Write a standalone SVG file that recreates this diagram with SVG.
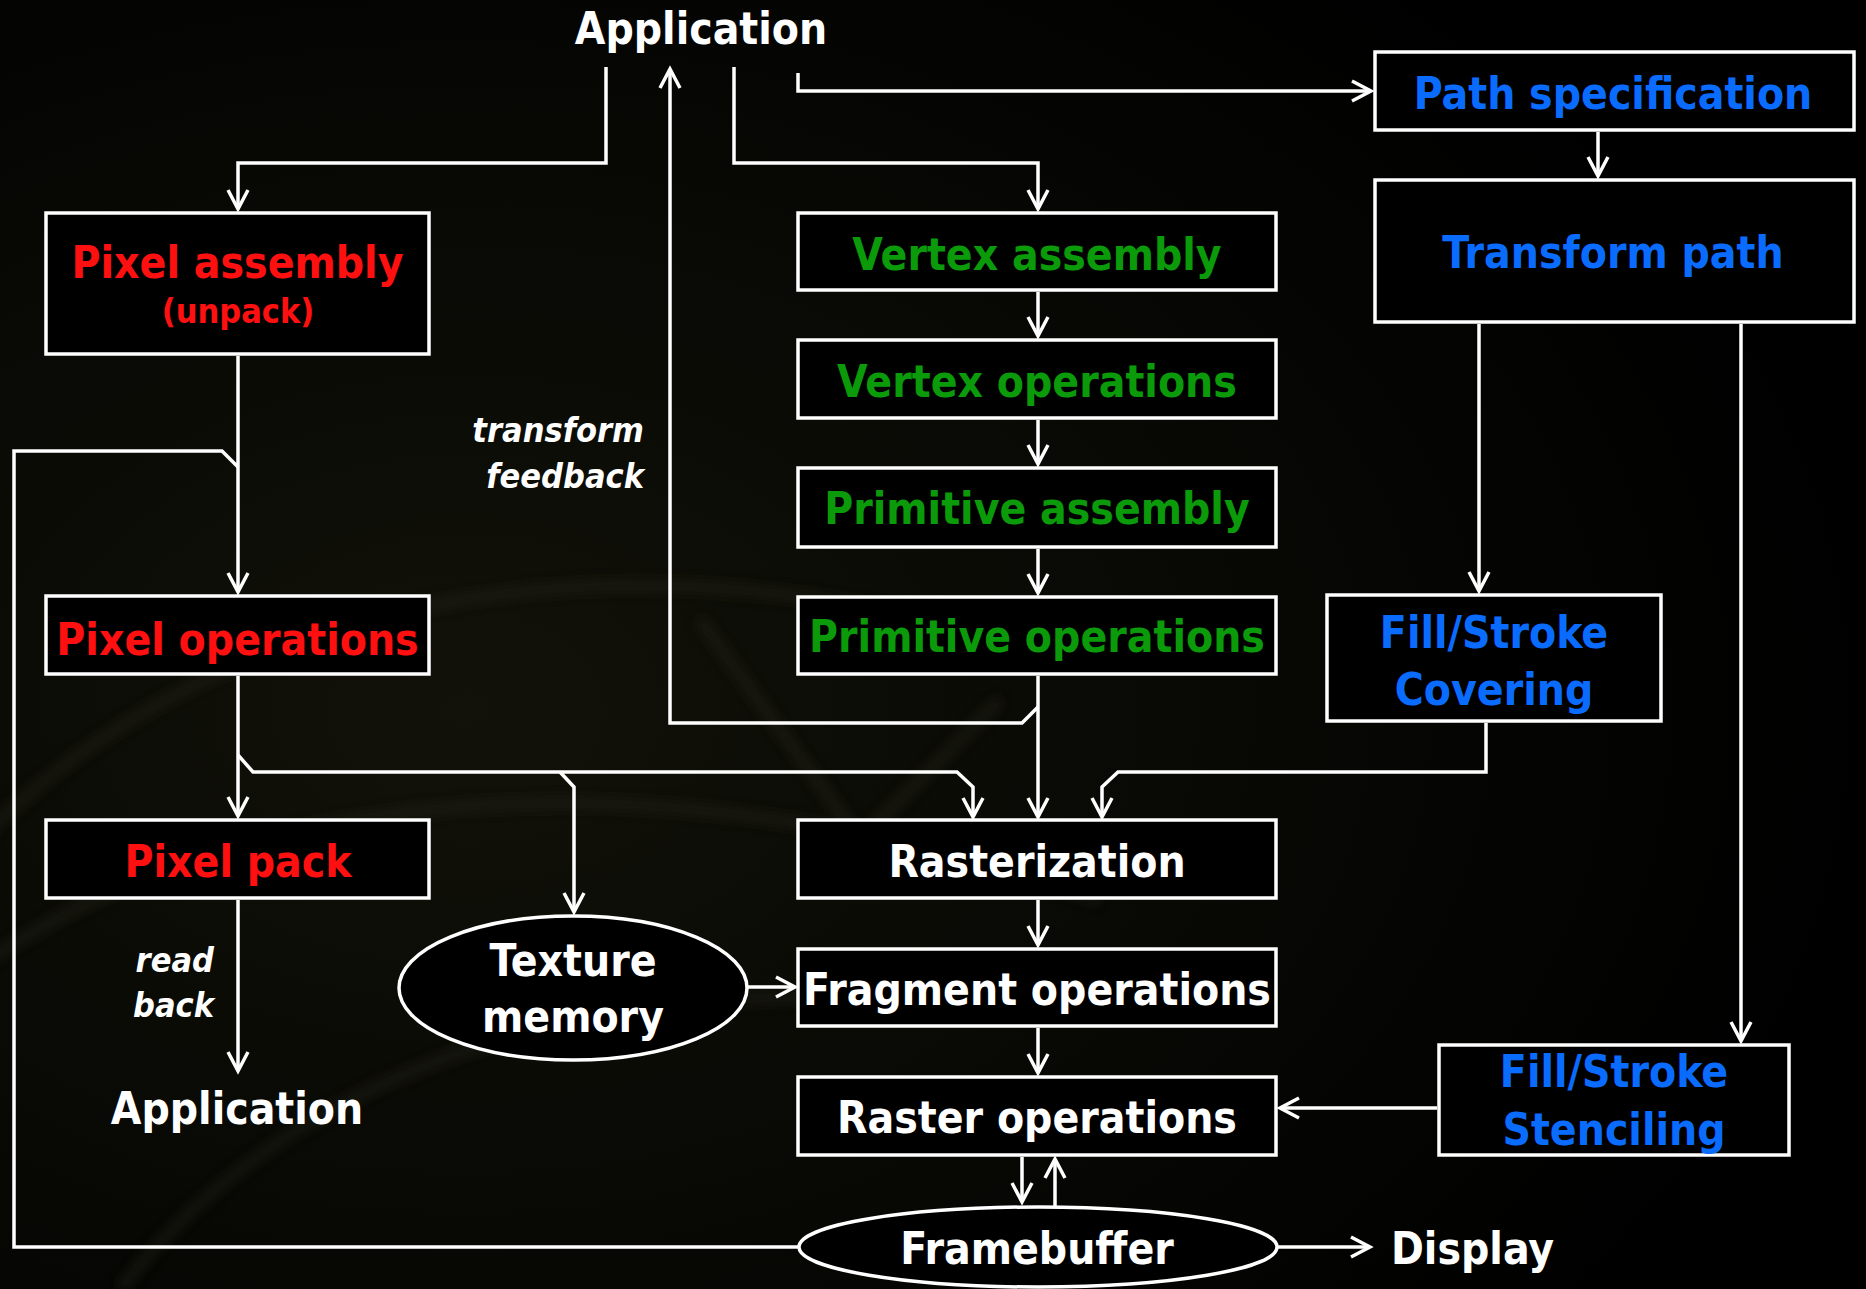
<svg xmlns="http://www.w3.org/2000/svg" width="1866" height="1289" viewBox="0 0 1866 1289">
  <defs>
    <radialGradient id="bgGlow" cx="0.25" cy="0.55" r="0.75">
      <stop offset="0" stop-color="#12120a"/>
      <stop offset="0.6" stop-color="#070704"/>
      <stop offset="1" stop-color="#000000"/>
    </radialGradient>
    <filter id="soft" x="-20%" y="-20%" width="140%" height="140%">
      <feGaussianBlur stdDeviation="6"/>
    </filter>
    <marker id="arrow" viewBox="-22 -12 26 24" refX="0" refY="0" markerWidth="26" markerHeight="24" markerUnits="userSpaceOnUse" orient="auto" overflow="visible">
      <path d="M -19 -10 L 0 0 L -19 10" fill="none" stroke="#ffffff" stroke-width="3.5" stroke-linejoin="miter"/>
    </marker>
    <style>
      .box { fill: #000000; stroke: #ffffff; stroke-width: 3.5; }
      .wire { fill: none; stroke: #ffffff; stroke-width: 3.5; stroke-linejoin: miter; }
      .lbl { font-family: "DejaVu Sans Condensed", "DejaVu Sans", sans-serif; font-stretch: condensed; font-weight: bold; font-size: 44px; text-anchor: middle; }
      .small { font-size: 34px; }
      .note { font-family: "DejaVu Sans Condensed", "DejaVu Sans", sans-serif; font-stretch: condensed; font-weight: bold; font-style: italic; font-size: 34px; fill: #ffffff; text-anchor: end; }
      .white { fill: #ffffff; }
      .red { fill: #ff1010; }
      .green { fill: #0a9a0a; }
      .blue { fill: #0a6cff; }
    </style>
  </defs>

  <!-- backdrop -->
  <rect x="0" y="0" width="1866" height="1289" fill="url(#bgGlow)"/>
  <g opacity="0.5" filter="url(#soft)" fill="none" stroke="#26261a" stroke-width="10">
    <path d="M -40 860 C 200 600, 600 520, 1000 640"/>
    <path d="M -40 980 C 260 760, 700 760, 1100 900"/>
    <path d="M 120 1289 C 300 1060, 600 980, 900 1000"/>
    <path d="M 700 620 L 860 840 L 1000 700"/>
  </g>

  <!-- connectors -->
  <g id="connectors">
    <path class="wire" d="M606,67 V163 H238 V209" marker-end="url(#arrow)"/>
    <path class="wire" d="M1038,707 L1022,723 H670 V69" marker-end="url(#arrow)"/>
    <path class="wire" d="M734,67 V163 H1038 V209" marker-end="url(#arrow)"/>
    <path class="wire" d="M798,73 V91 H1371" marker-end="url(#arrow)"/>
    <path class="wire" d="M1598,132 V176" marker-end="url(#arrow)"/>
    <path class="wire" d="M1479,324 V591" marker-end="url(#arrow)"/>
    <path class="wire" d="M1741,324 V1041" marker-end="url(#arrow)"/>
    <path class="wire" d="M1038,292 V336" marker-end="url(#arrow)"/>
    <path class="wire" d="M1038,420 V464" marker-end="url(#arrow)"/>
    <path class="wire" d="M1038,549 V593" marker-end="url(#arrow)"/>
    <path class="wire" d="M1038,676 V817" marker-end="url(#arrow)"/>
    <path class="wire" d="M238,356 V592" marker-end="url(#arrow)"/>
    <path class="wire" d="M798,1247 H14 V451 H222 L238,467"/>
    <path class="wire" d="M238,676 V816" marker-end="url(#arrow)"/>
    <path class="wire" d="M238,755 L253,772 H957 L973,787 V817" marker-end="url(#arrow)"/>
    <path class="wire" d="M560,772 L574,787 V912" marker-end="url(#arrow)"/>
    <path class="wire" d="M1486,723 V772 H1118 L1102,787 V817" marker-end="url(#arrow)"/>
    <path class="wire" d="M1038,900 V945" marker-end="url(#arrow)"/>
    <path class="wire" d="M1038,1028 V1073" marker-end="url(#arrow)"/>
    <path class="wire" d="M748,987 H795" marker-end="url(#arrow)"/>
    <path class="wire" d="M1437,1108 H1280" marker-end="url(#arrow)"/>
    <path class="wire" d="M1022,1157 V1202" marker-end="url(#arrow)"/>
    <path class="wire" d="M1055,1207 V1159" marker-end="url(#arrow)"/>
    <path class="wire" d="M1277,1247 H1370" marker-end="url(#arrow)"/>
    <path class="wire" d="M238,900 V1071" marker-end="url(#arrow)"/>
  </g>

  <!-- free-standing labels -->
  <g id="app-top"><text class="lbl white" x="701" y="44">Application</text></g>
  <g id="app-bottom"><text class="lbl white" x="237" y="1124">Application</text></g>
  <g id="display"><text class="lbl white" x="1391" y="1264" style="text-anchor:start">Display</text></g>
  <g id="transform-feedback">
    <text class="note" x="644" y="442">transform</text>
    <text class="note" x="644" y="488">feedback</text>
  </g>
  <g id="read-back">
    <text class="note" x="214" y="972">read</text>
    <text class="note" x="214" y="1017">back</text>
  </g>

  <!-- pixel path -->
  <g id="pixel-assembly">
    <rect class="box" x="46" y="213" width="383" height="141"/>
    <text class="lbl red" x="237.5" y="278">Pixel assembly</text>
    <text class="lbl red small" x="238" y="323">(unpack)</text>
  </g>
  <g id="pixel-operations">
    <rect class="box" x="46" y="596" width="383" height="78"/>
    <text class="lbl red" x="237.5" y="655">Pixel operations</text>
  </g>
  <g id="pixel-pack">
    <rect class="box" x="46" y="820" width="383" height="78"/>
    <text class="lbl red" x="238" y="877">Pixel pack</text>
  </g>
  <g id="texture-memory">
    <ellipse class="box" cx="573" cy="988" rx="174" ry="72"/>
    <text class="lbl white" x="573" y="976">Texture</text>
    <text class="lbl white" x="573" y="1032">memory</text>
  </g>

  <!-- vertex path -->
  <g id="vertex-assembly">
    <rect class="box" x="798" y="213" width="478" height="77"/>
    <text class="lbl green" x="1037" y="270">Vertex assembly</text>
  </g>
  <g id="vertex-operations">
    <rect class="box" x="798" y="340" width="478" height="78"/>
    <text class="lbl green" x="1037" y="397">Vertex operations</text>
  </g>
  <g id="primitive-assembly">
    <rect class="box" x="798" y="468" width="478" height="79"/>
    <text class="lbl green" x="1037" y="524">Primitive assembly</text>
  </g>
  <g id="primitive-operations">
    <rect class="box" x="798" y="597" width="478" height="77"/>
    <text class="lbl green" x="1037" y="652">Primitive operations</text>
  </g>

  <!-- shared back end -->
  <g id="rasterization">
    <rect class="box" x="798" y="820" width="478" height="78"/>
    <text class="lbl white" x="1037" y="877">Rasterization</text>
  </g>
  <g id="fragment-operations">
    <rect class="box" x="798" y="949" width="478" height="77"/>
    <text class="lbl white" x="1037" y="1005">Fragment operations</text>
  </g>
  <g id="raster-operations">
    <rect class="box" x="798" y="1077" width="478" height="78"/>
    <text class="lbl white" x="1037" y="1133">Raster operations</text>
  </g>
  <g id="framebuffer">
    <ellipse class="box" cx="1038" cy="1247" rx="239" ry="40"/>
    <text class="lbl white" x="1037" y="1264">Framebuffer</text>
  </g>

  <!-- path rendering -->
  <g id="path-specification">
    <rect class="box" x="1375" y="52" width="479" height="78"/>
    <text class="lbl blue" x="1613" y="109">Path specification</text>
  </g>
  <g id="transform-path">
    <rect class="box" x="1375" y="180" width="479" height="142"/>
    <text class="lbl blue" x="1613" y="268">Transform path</text>
  </g>
  <g id="fill-stroke-covering">
    <rect class="box" x="1327" y="595" width="334" height="126"/>
    <text class="lbl blue" x="1494" y="648">Fill/Stroke</text>
    <text class="lbl blue" x="1494" y="705">Covering</text>
  </g>
  <g id="fill-stroke-stenciling">
    <rect class="box" x="1439" y="1045" width="350" height="110"/>
    <text class="lbl blue" x="1614" y="1087">Fill/Stroke</text>
    <text class="lbl blue" x="1614" y="1145">Stenciling</text>
  </g>
</svg>
